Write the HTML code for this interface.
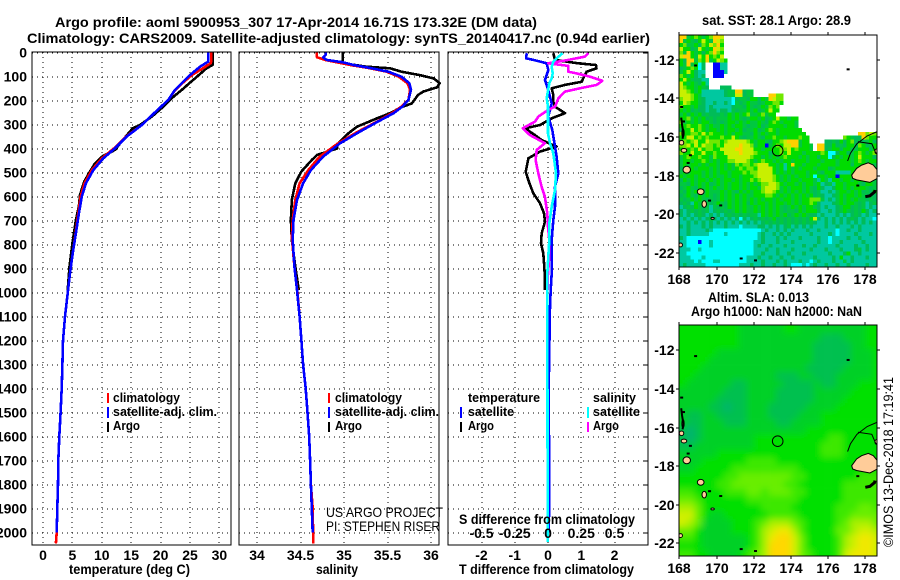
<!DOCTYPE html>
<html>
<head>
<meta charset="utf-8">
<title>Argo profile</title>
<style>
html,body{margin:0;padding:0;background:#fff;}
svg{display:block;}
text{font-family:"Liberation Sans",sans-serif;fill:#000;}
.b{font-weight:bold;font-size:14px;}
.l{font-weight:bold;font-size:13px;}
.t{font-size:14px;}
</style>
</head>
<body>
<svg id="chart" xmlns="http://www.w3.org/2000/svg" width="900" height="580" viewBox="0 0 900 580">
<defs>
<clipPath id="clipB"><rect x="679" y="325" width="198" height="231"/></clipPath>
<clipPath id="clipA"><rect x="679" y="35" width="198" height="232"/></clipPath>
<filter id="soft" filterUnits="userSpaceOnUse" x="640" y="290" width="260" height="290"><feGaussianBlur stdDeviation="3.4"/></filter>
</defs>
<rect width="900" height="580" fill="#fff"/>
<text class="b" x="55" y="27" textLength="482" lengthAdjust="spacingAndGlyphs">Argo profile: aoml 5900953_307 17-Apr-2014 16.71S 173.32E (DM data)</text>
<text class="b" x="27" y="43" textLength="623" lengthAdjust="spacingAndGlyphs">Climatology: CARS2009. Satellite-adjusted climatology: synTS_20140417.nc (0.94d earlier)</text>

<g id="gridLayer"></g>
<g id="seriesLayer"></g>
<g id="axisLayer"></g>

<text class="b" x="69" y="574" textLength="121" lengthAdjust="spacingAndGlyphs">temperature (deg C)</text>
<text class="b" x="316" y="574" textLength="42" lengthAdjust="spacingAndGlyphs">salinity</text>
<text class="b" x="459" y="574" textLength="175" lengthAdjust="spacingAndGlyphs">T difference from climatology</text>
<text class="b" x="459" y="524" textLength="176" lengthAdjust="spacingAndGlyphs">S difference from climatology</text>

<g>
<rect x="107" y="393" width="2" height="10" fill="#ff0000"/>
<rect x="107" y="407" width="2" height="11" fill="#0000ff"/>
<rect x="107" y="422" width="2" height="10" fill="#000"/>
<text class="l" x="113" y="402" textLength="67" lengthAdjust="spacingAndGlyphs">climatology</text>
<text class="l" x="113" y="416" textLength="104" lengthAdjust="spacingAndGlyphs">satellite-adj. clim.</text>
<text class="l" x="113" y="430" textLength="27" lengthAdjust="spacingAndGlyphs">Argo</text>
</g>
<g>
<rect x="328" y="393" width="2" height="10" fill="#ff0000"/>
<rect x="328" y="407" width="2" height="11" fill="#0000ff"/>
<rect x="328" y="422" width="2" height="10" fill="#000"/>
<text class="l" x="335" y="402" textLength="67" lengthAdjust="spacingAndGlyphs">climatology</text>
<text class="l" x="335" y="416" textLength="104" lengthAdjust="spacingAndGlyphs">satellite-adj. clim.</text>
<text class="l" x="335" y="430" textLength="27" lengthAdjust="spacingAndGlyphs">Argo</text>
</g>
<g>
<text class="l" x="468" y="402" textLength="72" lengthAdjust="spacingAndGlyphs">temperature</text>
<rect x="460" y="407" width="2" height="11" fill="#0000ff"/>
<text class="l" x="468" y="416" textLength="46" lengthAdjust="spacingAndGlyphs">satellite</text>
<rect x="460" y="422" width="2" height="10" fill="#000"/>
<text class="l" x="468" y="430" textLength="26" lengthAdjust="spacingAndGlyphs">Argo</text>
<text class="l" x="593" y="402" textLength="43" lengthAdjust="spacingAndGlyphs">salinity</text>
<rect x="587" y="407" width="2" height="11" fill="#00ffff"/>
<text class="l" x="593" y="416" textLength="47" lengthAdjust="spacingAndGlyphs">satellite</text>
<rect x="587" y="422" width="2" height="10" fill="#ff00ff"/>
<text class="l" x="593" y="430" textLength="26" lengthAdjust="spacingAndGlyphs">Argo</text>
</g>
<text class="t" x="326" y="517" textLength="117" lengthAdjust="spacingAndGlyphs">US ARGO PROJECT</text>
<text class="t" x="326" y="531" textLength="114" lengthAdjust="spacingAndGlyphs">PI: STEPHEN RISER</text>

<g clip-path="url(#clipA)"><g id="mapA"></g></g>
<g clip-path="url(#clipB)"><g filter="url(#soft)"><g id="mapB"></g></g></g>
<g clip-path="url(#clipA)"><g id="landA"></g></g>
<g clip-path="url(#clipB)"><g id="landB"></g></g>
<g id="mapAxes"></g>

<text class="b" x="702" y="25" textLength="149" lengthAdjust="spacingAndGlyphs">sat. SST: 28.1 Argo: 28.9</text>
<text class="b" x="708" y="302" textLength="101" lengthAdjust="spacingAndGlyphs">Altim. SLA: 0.013</text>
<text class="b" x="691" y="316" textLength="171" lengthAdjust="spacingAndGlyphs">Argo h1000: NaN h2000: NaN</text>
<text class="t" transform="translate(893,547) rotate(-90)" x="0" y="0" textLength="170" lengthAdjust="spacingAndGlyphs">©IMOS 13-Dec-2018 17:19:41</text>
</svg>

<script>
// ---- Axis tick labels ----
const depthTicks = [0,100,200,300,400,500,600,700,800,900,1000,1100,1200,1300,1400,1500,1600,1700,1800,1900,2000];
const tempTicks = [0,5,10,15,20,25,30];
const salTicks = [34,34.5,35,35.5,36];
const tDiffTicks = [-2,-1,0,1,2];
const sDiffTicks = [-0.5,-0.25,0,0.25,0.5];
const latTicks = [-12,-14,-16,-18,-20,-22];
const lonTicks = [168,170,172,174,176,178];

// ---- Temperature panel ----
const argoTempDepth = [0,52,66,108,128,156,190,225,267,302,316,365,406,434,462,496,538,593,640,698,795,892,990];
const argoTemp = [28.85,28.85,27.8,25.85,24.9,23.6,21.9,20.5,18.5,16.5,15.25,13.55,12.25,10,8.85,8,7,6.3,6.1,5.6,5,4.5,4.2];
const climTempDepth = [0,38,45,66,94,128,156,198,253,302,351,399,441,490,545,600,670,753,837,920,1003,1100,1200,1300,1400,1500,1600,1700,1800,1900,2000,2045];
const climTemp = [28.6,28.6,28.5,27.2,25.3,23.7,22.5,21.3,18.9,16.8,14.1,12.1,10,8.3,7.05,6.4,6,5.55,5.05,4.6,4.2,3.75,3.4,3.3,3.18,3,2.78,2.6,2.55,2.44,2.33,2.2];
const satTempDepth = [0,38,59,94,128,156,198,253,302,351,399,441,490,545,600,670,753,837,920,1003,1100,1200,1300,1400,1500,1600,1700,1800,1900,2000];
const satTemp = [28.1,28.1,26.7,25,23.6,22.45,21.3,18.9,16.8,14.2,12.25,10.25,8.55,7.3,6.6,6.1,5.6,5.05,4.6,4.2,3.75,3.4,3.3,3.18,3,2.78,2.6,2.55,2.44,2.33];

// ---- Salinity panel ----
const argoSalDepth = [0,38,45,59,66,80,94,108,128,145,163,177,212,228,253,274,309,337,379,400,427,448,496,545,614,698,781,892,990];
const argoSal = [34.985,34.985,34.99,35.26,35.53,35.66,35.87,36.03,36.1,36.07,35.91,35.85,35.78,35.66,35.53,35.38,35.15,35.05,34.93,34.92,34.69,34.63,34.51,34.44,34.4,34.39,34.4,34.44,34.48];
const climSalDepth = [0,20,31,41,52,66,80,101,128,156,198,226,253,288,330,379,434,490,545,614,698,767,892,1000,1100,1200,1300,1400,1500,1600,1700,1800,1900,2000,2045];
const climSal = [34.686,34.69,34.78,34.92,35.07,35.3,35.49,35.63,35.73,35.76,35.74,35.66,35.55,35.38,35.16,34.93,34.72,34.59,34.49,34.44,34.41,34.4,34.43,34.465,34.49,34.51,34.53,34.56,34.58,34.6,34.61,34.62,34.64,34.645,34.645];
const satSalDepth = [0,10,20,31,41,52,66,80,101,128,156,198,226,253,288,330,379,434,490,545,614,698,781,892,990,1100,1200,1300,1400,1500,1600,1700,1800,1900,2000];
const satSal = [34.79,34.79,34.76,34.8,34.99,35.11,35.32,35.51,35.66,35.75,35.77,35.74,35.67,35.57,35.39,35.18,34.95,34.76,34.62,34.53,34.46,34.42,34.41,34.43,34.46,34.49,34.51,34.53,34.56,34.58,34.6,34.61,34.62,34.63,34.64];

// ---- Difference panel ----
const argoDTDepth = [3,31,45,52,66,80,108,122,135,149,177,205,226,253,274,302,316,344,365,392,413,441,497,545,587,628,670,705,753,795,837,892,948,990];
const argoDT = [0.16,0.21,0.9,1.44,1.46,1.16,1.06,1.01,0.51,0.11,0.16,0.16,0.21,0.51,0.11,-0.24,-0.69,-0.39,-0.19,0.26,-0.24,-0.59,-0.67,-0.56,-0.44,-0.24,-0.12,-0.09,-0.19,-0.21,-0.14,-0.11,-0.09,-0.09];
const argoDSDepth = [3,17,31,45,56,80,87,101,118,135,149,163,191,226,240,267,288,316,344,378,406,448,503,559,601,670,726,781,851,920,990];
const argoDS = [0.303,0.278,0.153,0.003,0.153,0.153,0.215,0.316,0.408,0.366,0.24,0.128,0.078,0.053,0,-0.073,-0.098,-0.19,-0.135,-0.023,-0.085,-0.093,-0.073,-0.048,-0.023,-0.005,0,0.01,0.01,0,-0.003];
const satDTDepth = [3,24,31,45,73,115,156,212,267,323,392,434,503,559,642,698,781,851,920,990,1059,1400,1850,2000];
const satDT = [-0.64,-0.66,-0.44,-0.04,0.01,-0.09,0.01,0.11,0.01,0.13,0.21,0.26,0.31,0.21,0.21,0.16,0.11,0.11,0.11,0.08,0.06,0.02,0.04,0.02];
const satDSDepth = [3,24,38,59,87,108,128,191,226,281,337,378,420,503,573,642,712,781,920,1059,1500,2040];
const satDS = [0.11,0.065,0.04,0.028,0.035,0.028,0.01,-0.01,0,0,0,0.015,0.04,0.06,0.053,0.028,0.01,0.01,-0.005,-0.005,-0.004,-0.002];

// ---- Satellite SST map: colour class per cell, 0.2 degree grid, north to south ----
const sstRows = [
"oogGlGgGlo oy",
"ogGgsGyGgo yl",
"GlggGslGyl oG",
"yGGsgyGgGo yl",
"lgoGgGsGlo lG",
"yooGgyGoGl Gy",
"GsooglGogG ylG",
"GgogGcs..b btt",
"sgGlGcs..b btt",
"gGyGstt..b bbt",
"lGgGsts..b bb",
"GyGgsstt",
"yGgGgsGt",
"ylGGgGgs.. .sss",
"yylGgGtttt ttsggoosgg",
"yyylGgtttt ttsggyysgg ....ooll",
"lyylGgsttt ttttcsggsG GsGgoyll",
"GylGGgstts ttstcgsgGg gsgGGllG",
"lGGgGsstst ttttsggsGg sgGglGl",
"GgGsgsstss tsstgsggGg GsgGyGG",
"gGsGgGsgss sgsGgGgGlg gGlgGG",
"GGlgGgGsgs gggGgGgsgG GgGsgGyGGg GG",
"lgGgGgGGgs gsgGGgGgGg gGgsGlGgGG Gg",
"GGlGGlGgGg gGgGgGGgsg gGsgGGGGgG Gg",
"gGGyGlGgGG gGgGGgGsgg GsgGlGgGGG GGG",
"lGGllGyGlG GGgGgGGggs GgGgGGgGGG GGGG...... ........oo lyl",
"GGyyGlGlGG GlGGyGgsgg GgsGGlGGgG GGlGG..... ....lGgsso lGG",
"GlGlyGGyll lGlyyyyylG gGGgsGGlyo oogGG....s sgsGsGlsgs gGs",
"llyGyGyllG lGyyyyoyyl gGGbgGlGyy oogGGg.oos sGsgsGGslG sgG",
"GlGlGyGllG Gyyyyooyyy GGgGGGGlly GlGGGg.oos gGGsGGsgGG GsG",
"lGGyGGyGGl GGyyyyoyyy lGGGsGGlGy GGGgGGGGlG ccsGGsgGlG gGl",
"gGlGGlGGgl GGGyyyyyyl GGgGgGgGlG GGgGgGGsGG csGgGGgGyG GGs",
"gGGgGGlGgG gGGllyyylG gGlGGgGgGG gGGGgGGGgG GGgGGGgGlG gGG",
"gGgGGgGgGG gGgGglGllG lyyyGGgGtG oGGgGGGgGG GGgGGGsGGG GGg",
"sGgGgGGGgG gGgGgGlGll GyyyyGgGtG gGgGGGgGGG sgGGGGGGsG GGg",
"gGgGGGgGgG gGGgGGGlGl lyyyyGgGgG gGGGgGGgsG GGttttGGGs gGg",
"GgGGgGgGgG ggGgGGgGGG lyyyylGgGg GgGGgGcGGg GGbGGGGgGG GGg",
"sGgGgGGgGg GgGGgGgGGl GlyyylGgGg GGgGGGgtGg tGGgGGgGGG ggg",
"ggsGgGgGsg GgGgGGgGgG gGllyylGgG GgGgGGgGts gtGGgGGGgs GGg",
"sgGgsGgGgG ggGgGGgGgG GglyyylgGg GGGgGgsGst tsGGgGgGGG gsg",
"gsGgGgsGgg gGgGgsGgGg GGlyylGgGg GgGgGgsgtt stgGGgGgGs gsG",
"sgGgsGgGgs gGgGgGgGgg GGGllGgGgG gGgGgGsgst tsgGgGGgGg sgs",
"gsgGgGgsgs gGgGgGgGgG gGgGGgGgGG gGgGGlllgt stgGgGgGgg sgs",
"sgstGgGgsg GgsGgGgGsG gGGgGgGGgG gGgGGlGstt tsgGgGGgsg tsg",
"tsgsGgsgtg sgsGgGgGgg GgGgGgGgsg GgGgGGgsts ttsgGGsgsg tst",
"stsgsgsgts gsgsgGgGgg GgGgGgGgsg gsGgGGGstt stsgGgsgsG sts",
"ststsgstst stsgsgsgsg gtGgGgGgGs gGgGgsstst ttststsgst stt",
"tstststsgs tststscsts gsgsgGsgsg sgsgsGysts tststsgsts ttc",
"ttstststst ststststst stsgsgsgsg sgsgsgstts tststststs tst",
"ststttstst ttstttcttt tsstststsg tstststtts ttstttstst ttt",
"ttsttttstc cccccccccc cctsttstst stttsttstt ttcttsttst ttt",
"ttstttttcc cctccccccc ctsttststs tttttstttt stcttttstt tst",
"stcccccccc cccccccccc ctstttstst ttsttttstt cttttsttst ttt",
"ttcccbcctc cccccccccc ttstttsttt sttttttstt cttsttttts ttt",
"ttcccccctc cccccccccc tsttstttst tttsttsttt ttsttttstt stt",
"tttcctcccc cccccccccc tttsttsttt sttttsttts tttstttsgt stt",
"ttcccccccc cccccccccc ttstttstts tttstttttt stttsGttst ttt",
"tttccctccc cccccccctt tsttsttstt stttttsttt tstGttsttt stt",
"ttttctccct tccccccctt ttstttstst ttsttctstt tsttgtsttt ttt",
"tstttttccc ccccccttts ttsttsttst ccctctstts ttsttstttt stt"
];

// ---- Altimetry SLA map: colour level per cell, 0.4 degree grid, north to south ----
const slaRows = [
"333333332222223322222222233",
"333333332222222222211122233",
"333333332222222222111112233",
"333332222222222222111112223",
"333322222222222222111112223",
"333222222222222221111122223",
"332222222222211122111222223",
"322222211222221111211222333",
"222222111222211111222223333",
"222221111222211111222233333",
"222211011222111112222333333",
"211221111222111122233333333",
"211222111222211222233333333",
"101222222222222223333333333",
"101222222233333333334433333",
"112222222233333333344433333",
"222223333333333333344433333",
"222333333444433333333333333",
"223333344444444433333333333",
"333333445555555443333333444",
"333334455555554433333344444",
"443333444554555443333344444",
"554333333444444433333344444",
"665333333334444333333444554",
"775322333333444433333445555",
"765222233345666543333456665",
"553222233346788643333556776",
"443222222346899753333467887",
"333222222346999753333467887",
"443322223456999754333478887"
];

// ---- Coastline, in degrees ----
const mainIslandLon = [177.27,177.53,177.8,178.16,178.43,178.65,178.65,178.25,177.89,177.53,177.32];
const mainIslandLat = [-17.98,-17.63,-17.46,-17.34,-17.46,-17.72,-18.15,-18.36,-18.29,-18.23,-18.15];
const isleLon = [168.4,169.15,169.34,169.79,168.07,168.2,168.12,168.25,178.6];
const isleLat = [-17.7,-18.84,-19.48,-20.22,-21.6,-15.8,-16.3,-16.7,-16.75];
const isleLonSize = [0.2,0.18,0.12,0.09,0.1,0.06,0.12,0.15,0.08];
const isleLatSize = [0.18,0.15,0.17,0.05,0.1,0.2,0.12,0.1,0.12];
const rockLon = [177.05,169.6,170.2,171.3,172.07,168.85,177.57,168.57,168.45,168.1,168.2];
const rockLat = [-12.5,-19.3,-19.55,-22.3,-22.4,-12.3,-18.52,-16.95,-17.35,-14.45,-15.2];
const reefLon = [178.65,178.1,177.55,177.2,177.05];
const reefLat = [-15.72,-15.95,-16.35,-16.85,-17.25];
const reef2Lon = [177.6,178.35,178.55,178.65];
const reef2Lat = [-16.25,-16.35,-16.8,-16.9];
const kadavuLon = [178,178.25,178.5,178.52];
const kadavuLat = [-19.1,-19.05,-18.85,-18.75];
const stripLon = [168.1,168.15,168.22,168.18];
const stripLat = [-15,-15.4,-15.8,-16.1];
const argoLon = [173.29];
const argoLat = [-16.71];

// ---- Palettes ----
const sstColors = {t:"#00c8a0",s:"#00bc58",g:"#00c840",G:"#00dc00",l:"#70e800",y:"#c8f000",o:"#ffd000",c:"#00ffff",b:"#0000ff"};
const slaColors = ["#00b470","#00c050","#00d028","#00e000","#3ce800","#68ee00","#a8f000","#d0f000","#f0e800","#ffd800"];

// ---- Axis functions ----
const NS = "http://www.w3.org/2000/svg";
function make(parent, tag, attrs, text){
  const el = document.createElementNS(NS, tag);
  for(const k in attrs) el.setAttribute(k, attrs[k]);
  if(text !== undefined) el.textContent = text;
  parent.appendChild(el);
  return el;
}
const yDepth = d => 52.5 + d*0.24;
const xTemp = v => 43 + v*5.88;
const xSal = v => 257 + (v-34)*87;
const xDT = v => 548 + v*33.25;
const xDS = v => 548 + v*133;
const panels = [
  {left:32, right:231, name:"temperature", ticks:tempTicks, x:xTemp},
  {left:239, right:439, name:"salinity", ticks:salTicks, x:xSal},
  {left:448, right:648, name:"difference", ticks:tDiffTicks, x:xDT}
];
const panelTop = 52, panelBottom = 545;
const mapGeo = {left:679.3, right:877.3, x168:679.3, pxLon:18.6, pxLat:19.3};
const mapFrames = {a:{top:35, bottom:267, y12:59.7}, b:{top:325, bottom:556, y12:350.3}};
const xLon = lon => mapGeo.x168 + (lon-168)*mapGeo.pxLon;
const yLat = (f, lat) => f.y12 + (-12-lat)*mapGeo.pxLat;

const gridLayer = document.getElementById("gridLayer");
const seriesLayer = document.getElementById("seriesLayer");
const axisLayer = document.getElementById("axisLayer");
const mapAxes = document.getElementById("mapAxes");

// ---- Grid and panel frames ----
panels.forEach(p => {
  depthTicks.forEach(d => {
    const g = make(gridLayer, "line", {x1:p.left, x2:p.right, y1:Math.round(yDepth(d)), y2:Math.round(yDepth(d)), stroke:"#000", "stroke-width":1, "stroke-dasharray":"1 4", "shape-rendering":"crispEdges"});
    
    
  });
  p.ticks.forEach(v => {
    const g = make(gridLayer, "line", {x1:Math.round(p.x(v)), x2:Math.round(p.x(v)), y1:panelTop, y2:panelBottom, stroke:"#000", "stroke-width":1, "stroke-dasharray":"1 4", "shape-rendering":"crispEdges"});
    
    
    const lab = make(axisLayer, "text", {x:p.x(v), y:560, "text-anchor":"middle", "class":"b"}, String(v));
    
    
  });
  const box = make(axisLayer, "rect", {x:p.left, y:panelTop, width:p.right-p.left, height:panelBottom-panelTop, fill:"none", stroke:"#000", "stroke-width":1, "shape-rendering":"crispEdges"});
  
  
});
depthTicks.forEach(d => {
  const lab = make(axisLayer, "text", {x:27, y:yDepth(d)+5, "text-anchor":"end", "class":"b"}, String(d));
  
  
  const tk = make(axisLayer, "line", {x1:643, x2:648, y1:Math.round(yDepth(d)), y2:Math.round(yDepth(d)), stroke:"#000", "shape-rendering":"crispEdges"});
  
  
});
sDiffTicks.forEach(v => {
  const lab = make(axisLayer, "text", {x:xDS(v), y:538, "text-anchor":"middle", "class":"b"}, String(v));
  
  
});

// ---- Series ----
function drawSeries(name, depths, values, xFn, color){
  const pts = depths.map((d,i) => xFn(values[i]).toFixed(1) + "," + yDepth(d).toFixed(1)).join(" ");
  const line = make(seriesLayer, "polyline", {points:pts, fill:"none", stroke:color, "stroke-width":2.6, "stroke-linejoin":"round", "shape-rendering":"crispEdges"});
  
  
}
drawSeries("temperature-argo-line", argoTempDepth, argoTemp, xTemp, "#000");
drawSeries("temperature-climatology-line", climTempDepth, climTemp, xTemp, "#ff0000");
drawSeries("temperature-satellite-line", satTempDepth, satTemp, xTemp, "#0000ff");
drawSeries("salinity-argo-line", argoSalDepth, argoSal, xSal, "#000");
drawSeries("salinity-climatology-line", climSalDepth, climSal, xSal, "#ff0000");
drawSeries("salinity-satellite-line", satSalDepth, satSal, xSal, "#0000ff");
drawSeries("t-diff-argo-line", argoDTDepth, argoDT, xDT, "#000");
drawSeries("t-diff-satellite-line", satDTDepth, satDT, xDT, "#0000ff");
drawSeries("s-diff-argo-line", argoDSDepth, argoDS, xDS, "#ff00ff");
drawSeries("s-diff-satellite-line", satDSDepth, satDS, xDS, "#00ffff");

// ---- Maps ----
const mapA = document.getElementById("mapA");
const mapB = document.getElementById("mapB");
const sstCellDeg = 0.2, slaCellDeg = 0.4;
const mapNorth = -10.74;
sstRows.forEach((row, r) => {
  const chars = row.replace(/ /g, "");
  for(let c = 0; c < chars.length; c++){
    const color = sstColors[chars[c]];
    if(!color) continue;
    const lon = 168 + c*sstCellDeg, lat = mapNorth - r*sstCellDeg;
    const x0 = xLon(lon), x1 = xLon(lon+sstCellDeg), y0 = yLat(mapFrames.a, lat), y1 = yLat(mapFrames.a, lat-sstCellDeg);
    const cell = make(mapA, "rect", {x:x0.toFixed(2), y:y0.toFixed(2), width:(x1-x0).toFixed(2), height:(y1-y0).toFixed(2), fill:color, "shape-rendering":"crispEdges"});
    
    
  }
});
const slaPad = 14;
slaRows.forEach((row, r) => {
  for(let c = 0; c < row.length; c++){
    const lon = 168 + c*slaCellDeg, lat = mapNorth - r*slaCellDeg;
    let x0 = xLon(lon), x1 = xLon(lon+slaCellDeg), y0 = yLat(mapFrames.b, lat), y1 = yLat(mapFrames.b, lat-slaCellDeg);
    if(c === 0) x0 -= slaPad;
    if(c === row.length-1) x1 += slaPad;
    if(r === 0) y0 -= slaPad;
    if(r === slaRows.length-1) y1 += slaPad;
    const cell = make(mapB, "rect", {x:x0.toFixed(2), y:y0.toFixed(2), width:(x1-x0+0.3).toFixed(2), height:(y1-y0+0.3).toFixed(2), fill:slaColors[+row[c]]});
    
    
  }
});

function drawLand(host, f){
  const geoPts = (lons, lats) => lons.map((lo,i) => xLon(lo).toFixed(1) + "," + yLat(f, lats[i]).toFixed(1)).join(" ");
  const main = make(host, "polygon", {points:geoPts(mainIslandLon, mainIslandLat), fill:"#ffcc99", stroke:"#000", "stroke-width":1});
  
  
  isleLon.forEach((lo,i) => {
    const isle = make(host, "ellipse", {cx:xLon(lo), cy:yLat(f, isleLat[i]), rx:isleLonSize[i]*mapGeo.pxLon, ry:isleLatSize[i]*mapGeo.pxLat, fill:"#ffcc99", stroke:"#000", "stroke-width":1});
    
    
  });
  rockLon.forEach((lo,i) => {
    const rock = make(host, "rect", {x:xLon(lo)-1, y:yLat(f, rockLat[i])-1, width:3, height:2, fill:"#000"});
    
    
  });
  [[reefLon,reefLat,1,'reef-line'],[reef2Lon,reef2Lat,1,'reef-line'],[kadavuLon,kadavuLat,3,'kadavu-island'],[stripLon,stripLat,2,'coast-strip']].forEach(s => {
    const ln = make(host, "polyline", {points:geoPts(s[0], s[1]), fill:"none", stroke:"#000", "stroke-width":s[2]});
    
    
  });
  const mark = make(host, "circle", {cx:xLon(argoLon[0]), cy:yLat(f, argoLat[0]), r:5.3, fill:"none", stroke:"#000", "stroke-width":1});
  
  
}
drawLand(document.getElementById("landA"), mapFrames.a);
drawLand(document.getElementById("landB"), mapFrames.b);

[mapFrames.a, mapFrames.b].forEach(f => {
  const box = make(mapAxes, "rect", {x:679, y:f.top, width:198, height:f.bottom-f.top, fill:"none", stroke:"#000", "stroke-width":1, "shape-rendering":"crispEdges"});
  
  
  latTicks.forEach(lat => {
    const y = Math.round(yLat(f, lat));
    const tl = make(mapAxes, "line", {x1:676, x2:679, y1:y, y2:y, stroke:"#000", "shape-rendering":"crispEdges"});
    
    
    const tr = make(mapAxes, "line", {x1:877, x2:880, y1:y, y2:y, stroke:"#000", "shape-rendering":"crispEdges"});
    
    
    const lab = make(mapAxes, "text", {x:674.5, y:y+5, "text-anchor":"end", "class":"b"}, String(lat));
    
    
  });
  lonTicks.forEach(lon => {
    const x = Math.round(xLon(lon));
    const tt = make(mapAxes, "line", {x1:x, x2:x, y1:f.top-3, y2:f.top, stroke:"#000", "shape-rendering":"crispEdges"});
    
    
    const tb = make(mapAxes, "line", {x1:x, x2:x, y1:f.bottom, y2:f.bottom+3, stroke:"#000", "shape-rendering":"crispEdges"});
    
    
    const lab = make(mapAxes, "text", {x:x, y:f.bottom+17, "text-anchor":"middle", "class":"b"}, String(lon));
    
    
  });
});
</script>
</body>
</html>
